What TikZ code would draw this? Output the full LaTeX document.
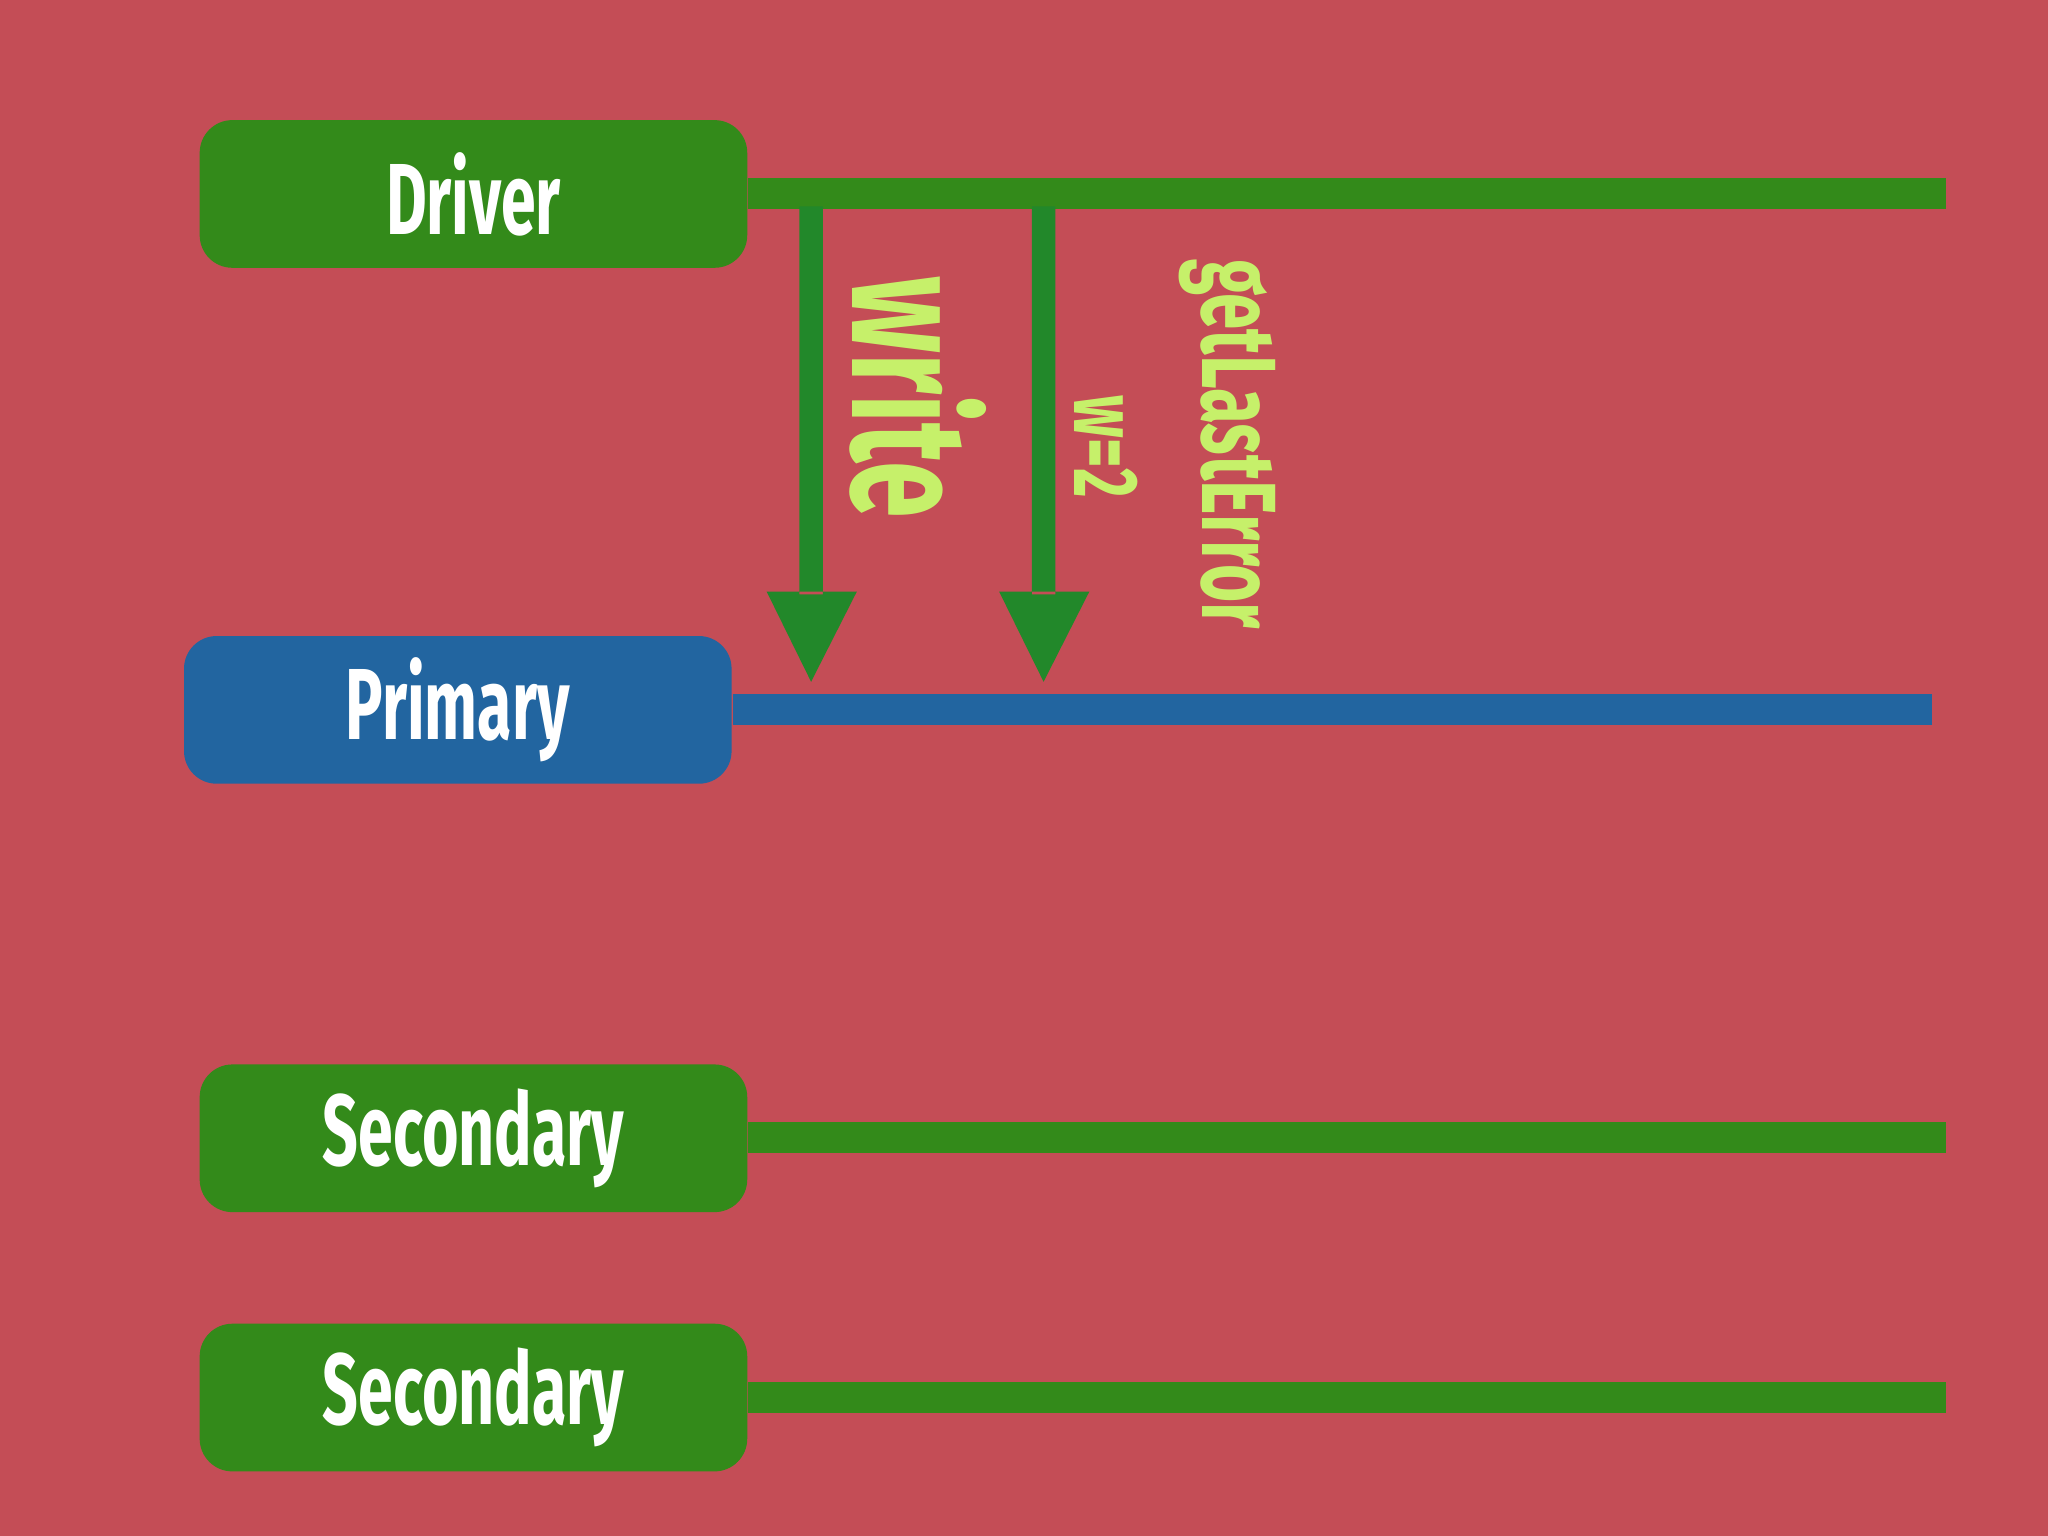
\documentclass[tikz,border=0pt]{standalone}
\usepackage{fontspec}
\setmainfont{Fira Sans}
\definecolor{bg}{HTML}{C44D56}
\definecolor{gr}{HTML}{338A1A}
\definecolor{arr}{HTML}{22882A}
\definecolor{bl}{HTML}{2265A0}
\definecolor{lt}{HTML}{C6F06A}
\tikzset{
 box/.style={fill=#1,rounded corners=0.25cm,minimum width=4.19cm,minimum height=1.13cm,inner sep=0pt,text=white,font=\bfseries\fontsize{22}{22}\selectfont},
 bar/.style={line width=0.24cm,draw=#1},
 lbl/.style={text=lt,rotate=-90,inner sep=0pt,font=\bfseries},
}
\newcommand{\nar}[1]{\scalebox{0.62}[1]{#1}}
\begin{document}
\begin{tikzpicture}[x=0.01cm,y=-0.01cm]
\fill[bg] (0,0) rectangle (1568,1176);
\node[box=gr] (drv) at (362.5,148.5) {\nar{Driver}};
\node[box=bl] (pri) at (350.5,543.5) {\nar{Primary}};
\node[box=gr] (s1) at (362.5,871.5) {\nar{Secondary}};
\node[box=gr] (s2) at (362.5,1070) {\nar{Secondary}};
\coordinate (de) at (1490,148);
\coordinate (pe) at (1479,543);
\coordinate (s1e) at (1490,871);
\coordinate (s2e) at (1490,1070);
\draw[bar=gr] (drv.east|-de) -- (de);
\draw[bar=bl] (pri.east|-pe) -- (pe);
\draw[bar=gr] (s1.east|-s1e) -- (s1e);
\draw[bar=gr] (s2.east|-s2e) -- (s2e);
\coordinate (a1s) at (621,158);
\coordinate (a1t) at (621,522);
\coordinate (a2s) at (799,158);
\coordinate (a2t) at (799,522);
\fill[arr] (612,158) rectangle (630,455) (587,453) -- (656,453) -- (a1t) -- cycle;
\fill[arr] (790,158) rectangle (808,455) (765,453) -- (834,453) -- (a2t) -- cycle;
\node[lbl,font=\bfseries\fontsize{36}{36}\selectfont] (w) at (703,304) {\nar{write}};
\node[lbl,font=\bfseries\fontsize{20}{20}\selectfont] (w2) at (847,342) {\nar{w=2}};
\node[lbl,font=\bfseries\fontsize{23}{23}\selectfont] (g) at (940,340) {\nar{getLastError}};
\end{tikzpicture}
\end{document}
